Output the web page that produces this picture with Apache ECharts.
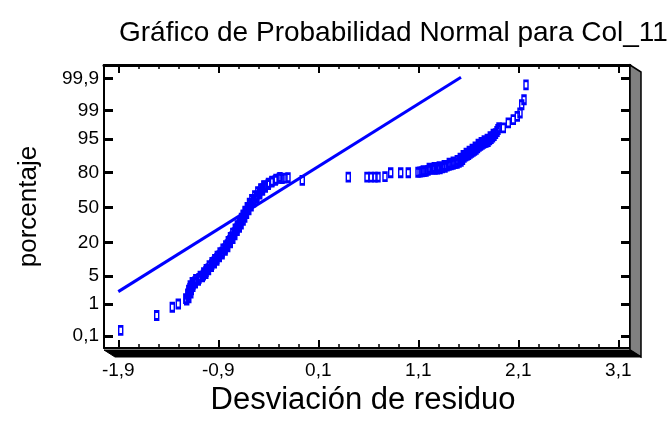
<!DOCTYPE html>
<html><head><meta charset="utf-8">
<script src="https://cdn.jsdelivr.net/npm/echarts@6/dist/echarts.min.js"></script>
<style>html,body{margin:0;padding:0;background:#fff}#c{width:672px;height:421px}</style>
</head><body><div id="c"></div>
<script>
// ---- data ----
const xTicks = [-1.9, -0.9, 0.1, 1.1, 2.1, 3.1];
const xTickLabels = ['-1,9', '-0,9', '0,1', '1,1', '2,1', '3,1'];
const xMinorTicks = [-1.7, -1.5, -1.3, -1.1, -0.7, -0.5, -0.3, -0.1, 0.3, 0.5, 0.7, 0.9, 1.3, 1.5, 1.7, 1.9, 2.3, 2.5, 2.7, 2.9];
const yTickLabels = ['0,1', '1', '5', '20', '50', '80', '95', '99', '99,9'];
const yTickZ = [-3.090, -2.326, -1.645, -0.842, 0, 0.842, 1.645, 2.326, 3.090];

const residuals = [
  -1.876, -1.516, -1.360, -1.300,
  -1.216, -1.200, -1.188, -1.183, -1.153, -1.133, -1.093, -1.050, -1.023, -1.000,
  -0.966, -0.941, -0.916, -0.891, -0.862, -0.833, -0.809, -0.783, -0.762, -0.739,
  -0.716, -0.701, -0.680, -0.665, -0.650, -0.628, -0.605, -0.583, -0.549, -0.516,
  -0.488, -0.460, -0.433, -0.398, -0.363, -0.323, -0.283,
  -1.195, -1.175, -1.170, -1.155, -1.130, -1.100, -1.060, -1.025, -0.998, -0.970,
  -0.940, -0.915, -0.890, -0.862, -0.832, -0.806, -0.780, -0.755, -0.735, -0.712,
  -0.690, -0.672, -0.652, -0.636, -0.618, -0.595, -0.572, -0.548, -0.515, -0.486,
  -0.458, -0.430, -0.400, -0.365, -0.330, -0.290,
  -1.225, -1.205, -1.195, -1.180, -1.160, -1.125, -1.080, -1.045, -1.020, -0.990,
  -0.962, -0.935, -0.910, -0.882, -0.852, -0.825, -0.800, -0.778, -0.755, -0.730,
  -0.710, -0.690, -0.668, -0.650, -0.632, -0.610, -0.588, -0.565, -0.535, -0.505,
  -0.475, -0.445,
  -0.263, -0.233, -0.203, -0.060, 0.400, 0.587, 0.627, 0.667, 0.697, 0.767,
  0.824, 0.924, 1.000, 1.097, 1.137, 1.177, 1.217, 1.267, 1.317, 1.367,
  1.407, 1.447, 1.487, 1.527, 1.557, 1.587, 1.617, 1.647, 1.677, 1.707,
  1.737, 1.767, 1.797, 1.827, 1.857, 1.887, 1.907, 1.950, 2.000, 2.050,
  2.090, 2.117, 2.134, 2.157, 2.177,
  1.117, 1.157, 1.197, 1.240, 1.290, 1.340, 1.387, 1.427, 1.467, 1.507,
  1.542, 1.572, 1.602, 1.632, 1.662, 1.692, 1.722, 1.752, 1.782, 1.812,
  1.842, 1.872, 1.897,
  1.150, 1.210, 1.260, 1.310, 1.360, 1.410, 1.450, 1.490, 1.520, 1.550,
  1.580, 1.610, 1.640, 1.670, 1.700, 1.730, 1.760, 1.790, 1.820, 1.850
];
const probitZ = [
  -2.954, -2.597, -2.399, -2.320,
  -2.225, -2.113, -2.017, -1.946, -1.850, -1.786, -1.707, -1.629, -1.540, -1.469,
  -1.373, -1.302, -1.230, -1.159, -1.075, -0.992, -0.897, -0.794, -0.706, -0.610,
  -0.515, -0.444, -0.348, -0.277, -0.198, -0.110, -0.014, 0.081, 0.176, 0.272,
  0.367, 0.451, 0.517, 0.582, 0.629, 0.677, 0.718,
  -2.17, -2.06, -1.98, -1.90, -1.82, -1.75, -1.67, -1.59, -1.50, -1.42,
  -1.34, -1.27, -1.19, -1.12, -1.03, -0.95, -0.85, -0.75, -0.66, -0.56,
  -0.48, -0.40, -0.31, -0.24, -0.15, -0.06, 0.03, 0.13, 0.22, 0.32,
  0.41, 0.48, 0.55, 0.61, 0.65, 0.70,
  -2.19, -2.08, -1.99, -1.88, -1.80, -1.73, -1.65, -1.57, -1.49, -1.40,
  -1.32, -1.25, -1.17, -1.09, -1.00, -0.92, -0.82, -0.72, -0.62, -0.52,
  -0.44, -0.35, -0.26, -0.18, -0.09, 0.00, 0.10, 0.19, 0.28, 0.38,
  0.45, 0.52,
  0.689, 0.701, 0.713, 0.650, 0.725, 0.725, 0.725, 0.725, 0.725, 0.737,
  0.832, 0.832, 0.832, 0.844, 0.856, 0.868, 0.916, 0.916, 0.928, 0.963,
  1.011, 1.035, 1.059, 1.106, 1.202, 1.249, 1.297, 1.345, 1.392, 1.464,
  1.512, 1.559, 1.583, 1.655, 1.726, 1.822, 1.917, 1.910, 2.029, 2.108,
  2.186, 2.267, 2.465, 2.585, 2.942,
  0.85, 0.86, 0.89, 0.92, 0.92, 0.95, 0.99, 1.02, 1.05, 1.08,
  1.15, 1.23, 1.27, 1.32, 1.37, 1.43, 1.49, 1.54, 1.57, 1.62,
  1.69, 1.77, 1.87,
  0.88, 0.94, 0.96, 0.98, 1.01, 1.06, 1.09, 1.13, 1.18, 1.25,
  1.30, 1.35, 1.40, 1.45, 1.52, 1.56, 1.60, 1.64, 1.70, 1.76
];
const fitLineX = [-1.9, 1.527];
const fitLineZ = [-2.024, 3.126];

// ---- layout ----
const G = {left: 104, top: 65, right: 630, bottom: 350};
const DEPTH = {dx: 11, dy: 7};
const X_MIN = -2.043, X_MAX = 3.217, Z_MIN = -3.38, Z_MAX = 3.42;
const FONT = 'Liberation Sans, Arial, sans-serif';

function labelX(v) {
  for (let i = 0; i < xTicks.length; i++) if (Math.abs(v - xTicks[i]) < 1e-6) return xTickLabels[i];
  return '';
}
function labelY(v) {
  for (let i = 0; i < yTickZ.length; i++) if (Math.abs(v - yTickZ[i]) < 1e-6) return yTickLabels[i];
  return '';
}

function xAx(pos, ticks, len, width, showLabel, showLine, lineWidth) {
  return {
    type: 'value', position: pos, min: X_MIN, max: X_MAX,
    axisLine: {show: showLine, onZero: false, lineStyle: {color: '#000', width: lineWidth || 2}},
    axisTick: {show: true, inside: true, length: len, customValues: ticks, lineStyle: {color: '#000', width: width}},
    axisLabel: showLabel ? {show: true, customValues: xTicks, formatter: labelX, color: '#000', fontSize: 19, fontFamily: FONT, margin: 13} : {show: false},
    splitLine: {show: false}
  };
}

const chart = echarts.init(document.getElementById('c'), null, {renderer: 'canvas'});
const option = {
  animation: false,
  backgroundColor: '#fff',
  title: {
    text: 'Gráfico de Probabilidad Normal para Col_11',
    left: 114, top: 14,
    textStyle: {fontFamily: FONT, fontSize: 28, fontWeight: 'normal', color: '#000'}
  },
  grid: {left: G.left, top: G.top, width: G.right - G.left, height: G.bottom - G.top, containLabel: false},
  xAxis: [
    Object.assign(xAx('bottom', xTicks, 8, 2, true, true, 2), {
      name: 'Desviación de residuo', nameLocation: 'middle', nameGap: 31,
      nameTextStyle: {fontFamily: FONT, fontSize: 31, color: '#000', verticalAlign: 'top', padding: [0, 8, 0, 0]}
    }),
    xAx('bottom', xMinorTicks, 4, 1.5, false, false),
    xAx('top', xTicks, 8, 2, false, true, 3),
    xAx('top', xMinorTicks, 4, 1.5, false, false)
  ],
  yAxis: [
    {
      type: 'value', position: 'left', min: Z_MIN, max: Z_MAX,
      name: 'porcentaje', nameLocation: 'middle', nameGap: 62,
      nameTextStyle: {fontFamily: FONT, fontSize: 26, color: '#000'},
      axisLine: {show: true, onZero: false, lineStyle: {color: '#000', width: 2}},
      axisTick: {show: true, inside: true, length: 9, customValues: yTickZ, lineStyle: {color: '#000', width: 3}},
      axisLabel: {show: true, customValues: yTickZ, formatter: labelY, color: '#000', fontSize: 19, fontFamily: FONT, margin: 5},
      splitLine: {show: false}
    },
    {
      type: 'value', position: 'right', min: Z_MIN, max: Z_MAX,
      axisLine: {show: true, onZero: false, lineStyle: {color: '#000', width: 2}},
      axisTick: {show: true, inside: true, length: 9, customValues: yTickZ, lineStyle: {color: '#000', width: 3}},
      axisLabel: {show: false},
      splitLine: {show: false}
    }
  ],
  series: [
    {
      type: 'line', xAxisIndex: 0, yAxisIndex: 0,
      data: fitLineX.map((x, i) => [x, fitLineZ[i]]),
      showSymbol: false, symbol: 'none',
      lineStyle: {color: '#0000ff', width: 3}, z: 3
    },
    {
      type: 'scatter', xAxisIndex: 0, yAxisIndex: 0,
      data: residuals.map((x, i) => [x, probitZ[i]]),
      symbol: 'rect', symbolSize: [4, 8],
      itemStyle: {color: 'rgba(0,0,0,0)', borderColor: '#0000ff', borderWidth: 2, opacity: 1},
      z: 4
    }
  ],
  graphic: [
    { // right side wall (3D effect)
      type: 'polygon', silent: true, z: 10,
      shape: {points: [[G.right, G.top], [G.right + DEPTH.dx, G.top + DEPTH.dy], [G.right + DEPTH.dx, G.bottom + DEPTH.dy], [G.right, G.bottom]]},
      style: {fill: '#808080', stroke: '#000', lineWidth: 1.5}
    },
    { // floor (3D effect)
      type: 'polygon', silent: true, z: 10,
      shape: {points: [[G.left, G.bottom], [G.right, G.bottom], [G.right + DEPTH.dx, G.bottom + DEPTH.dy], [G.left + DEPTH.dx, G.bottom + DEPTH.dy]]},
      style: {fill: '#000', stroke: '#000', lineWidth: 1}
    }
  ]
};
chart.setOption(option);
</script>
</body></html>
